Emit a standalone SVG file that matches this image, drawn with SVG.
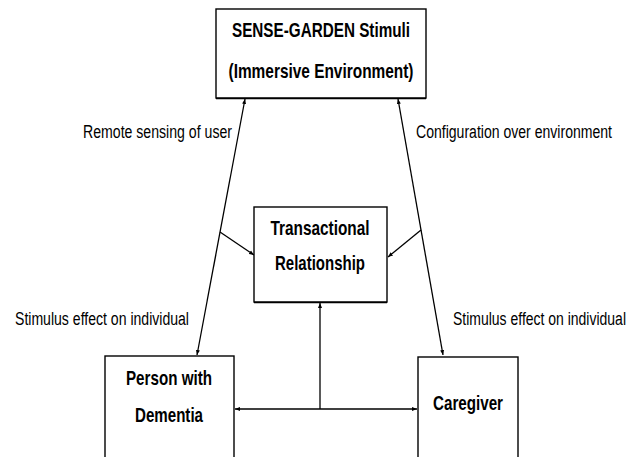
<svg xmlns="http://www.w3.org/2000/svg" width="637" height="457" viewBox="0 0 637 457">
<style>
.box{fill:#fff;stroke:#000;stroke-width:1.4}
.sh{stroke:#000;stroke-width:1.4}
.t{font-family:"Liberation Sans",Arial,sans-serif;font-weight:bold;font-size:21px;fill:#000;text-anchor:middle}
.l{font-family:"Liberation Sans",Arial,sans-serif;font-size:18px;fill:#000}
.c{stroke:#000;stroke-width:1.3;fill:none}
</style>
<defs>
<marker id="ah" viewBox="0 0 10 10" refX="10" refY="5" markerWidth="5" markerHeight="5" orient="auto-start-reverse" markerUnits="userSpaceOnUse">
<path d="M0,1 L10,5 L0,9 Z" fill="#000"/>
</marker>
</defs>
<rect width="637" height="457" fill="#fff"/>
<g id="connectors">
<line class="c" x1="197" y1="355" x2="245" y2="99" marker-start="url(#ah)" marker-end="url(#ah)"/>
<line class="c" x1="443" y1="355" x2="398" y2="99" marker-start="url(#ah)" marker-end="url(#ah)"/>
<line class="c" x1="220" y1="232" x2="254" y2="255" marker-end="url(#ah)"/>
<line class="c" x1="421" y1="230" x2="388" y2="257" marker-end="url(#ah)"/>
<line class="c" x1="320" y1="409" x2="320" y2="303" marker-end="url(#ah)"/>
<line class="c" x1="235" y1="409" x2="417" y2="409" marker-start="url(#ah)" marker-end="url(#ah)"/>
</g>
<g id="labels">
<text class="l" x="83" y="138" textLength="149" lengthAdjust="spacingAndGlyphs">Remote sensing of user</text>
<text class="l" x="416" y="138" textLength="196" lengthAdjust="spacingAndGlyphs">Configuration over environment</text>
<text class="l" x="15" y="325" textLength="174" lengthAdjust="spacingAndGlyphs">Stimulus effect on individual</text>
<text class="l" x="453" y="325" textLength="173" lengthAdjust="spacingAndGlyphs">Stimulus effect on individual</text>
</g>
<g id="sense-garden">
<rect class="box" x="216" y="9" width="210" height="89"/>
<line class="sh" x1="216" y1="98.5" x2="426" y2="98.5"/>
<text class="t" x="321" y="37" textLength="178" lengthAdjust="spacingAndGlyphs">SENSE-GARDEN Stimuli</text>
<text class="t" x="321" y="78" textLength="185" lengthAdjust="spacingAndGlyphs">(Immersive Environment)</text>
</g>
<g id="transactional">
<rect class="box" x="254" y="207" width="133" height="95"/>
<line class="sh" x1="254" y1="302.5" x2="387" y2="302.5"/>
<text class="t" x="320" y="235" textLength="99" lengthAdjust="spacingAndGlyphs">Transactional</text>
<text class="t" x="320" y="270" textLength="90" lengthAdjust="spacingAndGlyphs">Relationship</text>
</g>
<g id="person">
<rect class="box" x="105" y="356" width="129" height="110"/>
<text class="t" x="169" y="385" textLength="86" lengthAdjust="spacingAndGlyphs">Person with</text>
<text class="t" x="169" y="422" textLength="68" lengthAdjust="spacingAndGlyphs">Dementia</text>
</g>
<g id="caregiver">
<rect class="box" x="418" y="357" width="100" height="110"/>
<text class="t" x="468" y="410" textLength="70" lengthAdjust="spacingAndGlyphs">Caregiver</text>
</g>
</svg>
